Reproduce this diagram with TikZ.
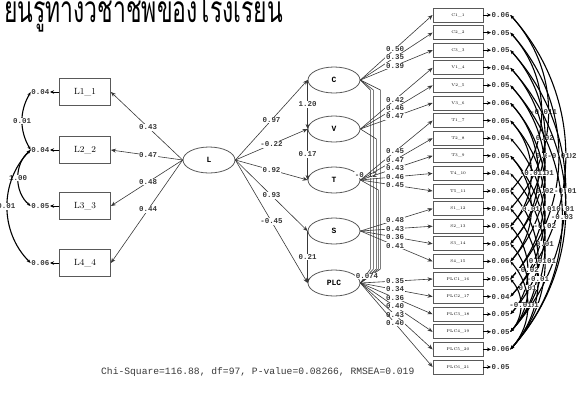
\documentclass[tikz,border=0pt]{standalone}
\usepackage{fontspec}
\usepackage{graphicx}
\setmonofont{Liberation Mono}
\newfontfamily\thaifont[Script=Thai]{Loma}
\usepackage{tikz}
\usetikzlibrary{arrows.meta,positioning,calc,shapes.geometric}
\definecolor{inkgray}{gray}{0.22}
\definecolor{boxgray}{gray}{0.35}
\tikzset{
  obsBox/.style={draw=boxgray,thick,minimum width=51bp,minimum height=27bp,
                 inner sep=0pt,font=\fontsize{9}{9}\selectfont},
  obsBoxR/.style={draw=boxgray,thick,minimum width=50bp,minimum height=14bp,
                  inner sep=0pt,font=\fontsize{4}{4}\selectfont},
  latEll/.style={ellipse,draw=boxgray,thick,minimum width=52bp,minimum height=26bp,
                 inner sep=0pt,font=\ttfamily\bfseries\fontsize{8}{8}\selectfont},
  pathArr/.style={-{Stealth[length=5bp,width=4bp]},draw=inkgray,semithick},
  pathLbl/.style={fill=white,inner sep=0.6bp,text=inkgray,
                  font=\ttfamily\bfseries\fontsize{7.5}{7.5}\selectfont},
  errLbl/.style={inner sep=0.5bp,text=inkgray,
                 font=\ttfamily\bfseries\fontsize{7.5}{7.5}\selectfont},
  errArr/.style={-{Stealth[length=4bp,width=3.5bp]},draw=black,thick},
  covArc/.style={{Stealth[length=4bp,width=3bp]}-{Stealth[length=4bp,width=3bp]},
                 draw=black,line width=1.1bp},
  covLat/.style={draw=inkgray,semithick},
}

\begin{document}
\begin{tikzpicture}[x=1bp,y=-1bp,>=Stealth]
  \useasboundingbox (0,0) rectangle (578,393);
  \clip (0,0) rectangle (578,393);
  % title, cut at the top
  \node[anchor=base west,inner sep=0pt,font=\thaifont\fontsize{24}{24}\selectfont]
    (title) at (4,22) {\scalebox{0.96}[1.55]{ยนรู้ทางวิชาชีพของโรงเรียน}};

  % left block
  \node[latEll] (L) at (209,160) {L};
  \node[obsBox] (L1) at (85,92)  {L1\_1};
  \node[obsBox] (L2) at (85,150) {L2\_2};
  \node[obsBox] (L3) at (85,206) {L3\_3};
  \node[obsBox] (L4) at (85,263) {L4\_4};
  \node[errLbl,anchor=east] (eL1) at (50,92)  {0.04};
  \node[errLbl,anchor=east] (eL2) at (50,150) {0.04};
  \node[errLbl,anchor=east] (eL3) at (50,206) {0.05};
  \node[errLbl,anchor=east] (eL4) at (50,263) {0.06};
  \foreach \i/\val in {1/0.43,2/0.47,3/0.48,4/0.44}{
    \draw[pathArr] (L.west) -- (L\i.east) node[pathLbl,pos=0.48]{\val};
    \draw[errArr] (L\i.west) -- (eL\i.east);
  }
  \draw[covArc] (eL1.west) to[bend right=30]
    node[errLbl,fill=white]{0.01} (eL2.west);
  \draw[covArc] (eL2.west) to[bend right=50]
    node[errLbl,fill=white]{1.00} (eL3.west);
  \draw[covArc] (eL2.west) to[bend right=45]
    node[errLbl,fill=white,anchor=east,xshift=9bp]{0.01} (eL4.west);

  % latent variables
  \node[latEll] (C)   at (334,80)  {C};
  \node[latEll] (V)   at (334,129) {V};
  \node[latEll] (T)   at (334,180) {T};
  \node[latEll] (S)   at (334,231) {S};
  \node[latEll] (PLC) at (334,283) {PLC};
  \foreach \lat/\val in {C/0.97,V/-0.22,T/0.92,S/0.93,PLC/-0.45}
    \draw[pathArr] (L.east) -- (\lat.west) node[pathLbl,pos=0.5]{\val};
  \draw[pathArr] (C.west) -- (V.west) node[pathLbl,midway]{1.20};
  \draw[pathArr] (V.west) -- (T.west) node[pathLbl,midway]{0.17};
  \draw[pathArr] (S.west) -- (PLC.west) node[pathLbl,midway]{0.21};
  \foreach \lat/\dx in {C/10,C/13,C/20,V/16,T/18}
    \draw[covLat] (\lat.east) -- ($(\lat.east)+(\dx,10)$)
      -- ($(PLC.east)+(\dx,-14)$) -- (PLC.east);
  \node[pathLbl] (cT) at (366,175) {-0.12};
  \node[pathLbl] (cP) at (367,276) {0.074};

  % indicators on the right
  \foreach \nm [count=\i] in {C1\_1,C2\_2,C3\_3,V1\_4,V2\_5,V3\_6,T1\_7,T2\_8,
      T3\_9,T4\_10,T5\_11,S1\_12,S2\_13,S3\_14,S4\_15,PLC1\_16,PLC2\_17,
      PLC3\_18,PLC4\_19,PLC5\_20,PLC6\_21}
    \node[obsBoxR] (r\i) at (458,{15+(\i-1)*17.6}) {\nm};
  \foreach \val [count=\i] in {0.06,0.05,0.05,0.04,0.05,0.06,0.05,0.04,0.05,
      0.04,0.05,0.04,0.05,0.05,0.06,0.05,0.04,0.05,0.05,0.06,0.05}{
    \node[errLbl,anchor=west] (er\i) at (491,{15+(\i-1)*17.6}) {\val};
    \draw[errArr] (r\i.east) -- (er\i.west);
  }
  \foreach \i/\lat/\val in {1/C/0.50,2/C/0.35,3/C/0.39,4/V/0.42,5/V/0.46,
      6/V/0.47,7/T/0.45,8/T/0.47,9/T/0.43,10/T/0.46,11/T/0.45,12/S/0.48,
      13/S/0.43,14/S/0.36,15/S/0.41,16/PLC/0.35,17/PLC/0.34,18/PLC/0.36,
      19/PLC/0.40,20/PLC/0.43,21/PLC/0.40}
    \draw[pathArr] (\lat.east) -- (r\i.west) node[pathLbl,pos=0.48]{\val};

  % error covariances
  \foreach \i/\j/\val in {1/12/0.01,2/11/-0.01,3/13/0.02,1/17/-0.02,4/14/0.01,
      2/16/-0.01,5/15/0.01,3/19/-0.01,6/16/0.02,7/17/-0.01,4/20/0.01,
      8/18/-0.02,9/19/0.01,5/20/-0.03,10/20/-0.01,11/19/0.01,12/20/-0.01,
      6/14/0.01,7/13/-0.01,9/15/0.01,13/18/-0.02,14/19/0.01,15/20/-0.01,
      16/19/-0.01}
    \draw[covArc] (er\i.east) to[bend left=42]
      node[errLbl,fill=white,inner sep=0pt]{\val} (er\j.east);

  % fit statistics
  \node[anchor=west,inner sep=0pt,text=inkgray,
        font=\ttfamily\fontsize{9.7}{9.7}\selectfont] (fit) at (101,372)
    {Chi-Square=116.88, df=97, P-value=0.08266, RMSEA=0.019};
\end{tikzpicture}
\end{document}
